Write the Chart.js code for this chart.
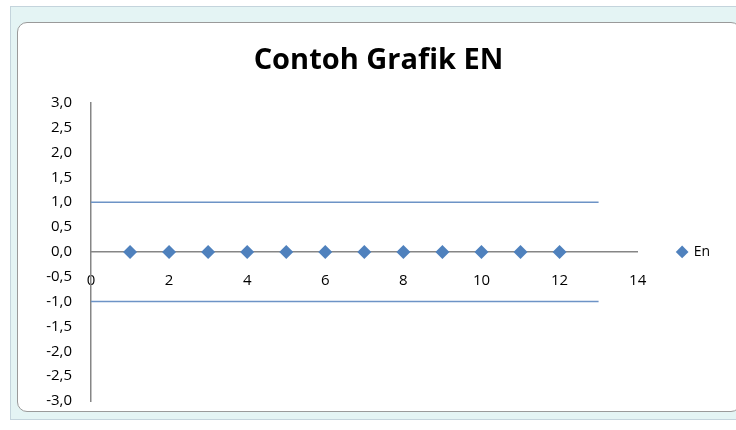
<!DOCTYPE html>
<html>
<head>
<meta charset="utf-8">
<script src="https://cdn.jsdelivr.net/npm/chart.js@4/dist/chart.umd.min.js"></script>
<style>
  html, body { margin: 0; padding: 0; background: #fff; width: 736px; height: 430px; overflow: hidden; }
  .sheet { position: absolute; left: 10px; top: 6px; width: 730px; height: 412px; background: #e4f4f4; border: 1px solid #c4d4dc; }
  .box { position: absolute; left: 17px; top: 22px; width: 722px; height: 388px; background: #fff; border: 1px solid #9a9a9a; border-radius: 10px; }
  .wrap { position: absolute; left: 17px; top: 23px; width: 718px; height: 406px; }
</style>
</head>
<body>
<div class="sheet"></div>
<div class="box"></div>
<div class="wrap"><canvas id="myChart"></canvas></div>
<script>
const xValues = [1, 2, 3, 4, 5, 6, 7, 8, 9, 10, 11, 12];
const enValues = [0, 0, 0, 0, 0, 0, 0, 0, 0, 0, 0, 0];
const limitX = [0, 13];
const upperLimit = [1, 1];
const lowerLimit = [-1, -1];

const blue = '#4f81bd';
const axisGrey = '#868686';
const font = "'Open Sans', 'Liberation Sans', sans-serif";

const toPoints = (xs, ys) => xs.map((x, i) => ({ x: x, y: ys[i] }));

const ctx = document.getElementById('myChart').getContext('2d');
const myChart = new Chart(ctx, {
  type: 'scatter',
  data: {
    datasets: [
      {
        label: 'En',
        data: toPoints(xValues, enValues),
        pointStyle: 'rectRot',
        pointRadius: 7,
        backgroundColor: blue,
        borderColor: blue,
        borderWidth: 0,
      },
      {
        label: 'Batas atas',
        data: toPoints(limitX, upperLimit),
        showLine: true,
        pointRadius: 0,
        borderColor: '#6d93c6',
        borderWidth: 1.5,
      },
      {
        label: 'Batas bawah',
        data: toPoints(limitX, lowerLimit),
        showLine: true,
        pointRadius: 0,
        borderColor: '#6d93c6',
        borderWidth: 1.5,
      },
    ],
  },
  options: {
    responsive: true,
    maintainAspectRatio: false,
    animation: false,
    layout: { padding: { left: 20, right: 15, top: 0, bottom: 0 } },
    plugins: {
      title: {
        display: true,
        text: 'Contoh Grafik EN',
        color: '#000',
        font: { family: font, size: 29, weight: 'bold' },
        padding: { top: 20, bottom: 25 },
      },
      legend: {
        position: 'right',
        fullSize: false,
        labels: {
          usePointStyle: true,
          boxWidth: 9,
          boxHeight: 9,
          padding: 40,
          color: '#000',
          font: { family: font, size: 14 },
          filter: (item) => item.text === 'En',
        },
      },
      tooltip: { enabled: false },
    },
    scales: {
      x: {
        type: 'linear',
        position: { y: 0 },
        min: 0,
        max: 14,
        afterFit: (scale) => { scale.height = 0; },
        ticks: { stepSize: 2, color: '#000', padding: 20, font: { family: font, size: 15 } },
        grid: { display: false, drawTicks: false },
        border: { display: true, color: axisGrey, width: 1.5 },
      },
      y: {
        type: 'linear',
        position: 'left',
        min: -3,
        max: 3,
        afterFit: (scale) => { scale.width = 54; },
        ticks: {
          stepSize: 0.5,
          color: '#000',
          padding: 19,
          font: { family: font, size: 15 },
          callback: (v) => v.toFixed(1).replace('.', ','),
        },
        grid: { display: false, drawTicks: false },
        border: { display: true, color: axisGrey, width: 1.5 },
      },
    },
  },
});
</script>
</body>
</html>
